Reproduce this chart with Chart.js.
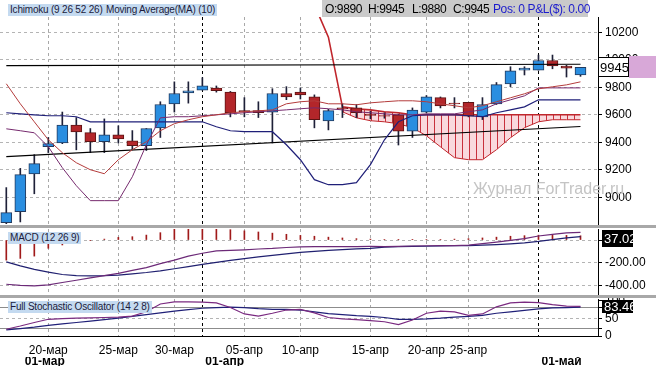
<!DOCTYPE html>
<html>
<head>
<meta charset="utf-8">
<script src="https://cdn.jsdelivr.net/npm/chart.js@4.4.1/dist/chart.umd.min.js"></script>
<style>
  body { margin: 0; background: #fff; font-family: "Liberation Sans", Arial, sans-serif; }
  #wrap { position: relative; width: 656px; height: 366px; overflow: hidden; background: #fff; }
  .pane { position: absolute; left: 0; width: 656px; }
  .sep { position: absolute; left: 0; width: 656px; height: 3px; background: #a8a8a8; }
  .tag { position: absolute; font-size: 10px; line-height: 12px; letter-spacing: -0.2px; background: #c4daf0; color: #1c1c3c; padding: 0 2px; white-space: nowrap; }
  #info { position: absolute; left: 322px; top: 0; width: 266px; height: 17px; background: #cacaca; font-size: 12px; letter-spacing: -0.4px; }
  #info span { position: absolute; top: 2px; white-space: nowrap; }
  #marca { position: absolute; left: 473px; top: 180px; font-size: 16px; color: #c4c4c4; white-space: nowrap; }
</style>
</head>
<body>
<div id="wrap">
  <div class="pane" style="top:0;height:225px"><canvas id="principal"></canvas></div>
  <div class="sep" style="top:225px"></div>
  <div class="pane" style="top:228px;height:67px"><canvas id="macd"></canvas></div>
  <div class="sep" style="top:295px"></div>
  <div class="pane" style="top:298px;height:68px"><canvas id="estocastico"></canvas></div>

  <div class="tag" style="left:8px;top:4px">Ichimoku (9 26 52 26)</div>
  <div class="tag" style="left:104px;top:4px">Moving Average(MA) (10)</div>
  <div id="info">
    <span style="left:3px">O:9890</span>
    <span style="left:46px">H:9945</span>
    <span style="left:90px">L:9880</span>
    <span style="left:131px">C:9945</span>
    <span style="left:171px;color:#1c1ccc">Pos: 0 P&amp;L($): 0.00</span>
  </div>
  <div class="tag" style="left:8px;top:232px">MACD (12 26 9)</div>
  <div class="tag" style="left:8px;top:301px">Full Stochastic Oscillator (14 2 8)</div>
  <div id="marca">Журнал ForTrader.ru</div>
</div>

<script>
// Velas (OHLC)
const opens  = [8815, 8895, 9170, 9368, 9395, 9525, 9470, 9405, 9455, 9410, 9375, 9505, 9680, 9760, 9780, 9795, 9765, 9630, 9630, 9620, 9755,
                9765, 9730, 9555, 9650, 9650, 9605, 9595, 9600, 9480, 9620, 9725, 9685, 9690, 9585, 9680, 9825, 9925, 9925, 9995, 9955, 9890];
const highs  = [9070, 9210, 9310, 9435, 9620, 9580, 9500, 9570, 9520, 9485, 9500, 9695, 9840, 9840, 9870, 9810, 9770, 9725, 9695, 9790, 9805,
                9795, 9745, 9640, 9680, 9675, 9625, 9615, 9605, 9650, 9740, 9730, 9725, 9690, 9725, 9835, 9950, 9950, 10035, 10035, 9960, 9945];
const lows   = [8790, 8820, 9025, 9325, 9390, 9345, 9325, 9325, 9395, 9345, 9340, 9435, 9620, 9685, 9780, 9765, 9585, 9585, 9580, 9395, 9710,
                9715, 9505, 9490, 9580, 9580, 9570, 9575, 9380, 9435, 9615, 9650, 9650, 9585, 9565, 9675, 9805, 9890, 9925, 9935, 9875, 9880];
const closes = [8888, 9165, 9245, 9390, 9525, 9475, 9405, 9455, 9425, 9375, 9500, 9675, 9755, 9775, 9810, 9775, 9615, 9622, 9615, 9755, 9730,
                9745, 9565, 9630, 9645, 9615, 9595, 9590, 9480, 9635, 9730, 9665, 9680, 9590, 9675, 9820, 9920, 9940, 9995, 9955, 9940, 9945];

// Lineas del Ichimoku y media movil
const lineaAzul = [9615, 9607, 9600, 9593, 9593, 9586, 9549, 9549, 9549, 9549, 9549, 9549, 9549, 9549, 9549, 9513, 9484, 9477, 9477, 9477, 9382,
                   9273, 9128, 9091, 9091, 9106, 9237, 9418, 9549, 9593, 9600, 9600, 9600, 9593, 9586, 9615, 9636, 9658, 9709, 9709, 9709, 9709];
const lineaMorada = [9498, 9484, 9469, 9367, 9215, 9084, 8975, 8975, 8975, 9149, 9382, 9578, 9586, 9586, 9593, 9600, 9607, 9615, 9622, 9629, 9636,
                     9644, 9651, 9644, 9636, 9622, 9615, 9607, 9600, 9600, 9607, 9607, 9607, 9622, 9636, 9680, 9709, 9738, 9796, 9796, 9796, 9796];
const mediaMovil = [9826, 9680, 9549, 9418, 9324, 9251, 9200, 9171, 9273, 9346, 9404, 9484, 9535, 9564, 9586, 9600, 9615, 9622, 9629, 9636, 9680,
                    9695, 9702, 9680, 9680, 9673, 9687, 9695, 9702, 9702, 9695, 9680, 9666, 9651, 9666, 9695, 9724, 9753, 9789, 9804, 9818, 9840];
const spanB = [null, null, null, null, null, null, null, null, null, null, null, null, null, null, null, null, null, null, null, null, null,
               10750, 10400, 10165, 9658, 9644, 9636, 9622, 9615, 9600, 9600, 9600, 9600, 9600, 9600, 9600, 9600, 9600, 9600, 9600, 9600, 9600];
const spanA = [null, null, null, null, null, null, null, null, null, null, null, null, null, null, null, null, null, null, null, null, null,
               null, null, null, 9622, 9578, 9557, 9549, 9535, 9506, 9447, 9367, 9288, 9273, 9273, 9346, 9433, 9506, 9549, 9564, 9564, 9564];

// Lineas dibujadas (inicio y fin)
const lineaX = [0, 41];
const lineaNivel = [9958, 9968];
const lineaTendencia = [9295, 9515];

// MACD
const macdLinea = [-385, -395, -400, -390, -370, -350, -330, -310, -290, -265, -240, -205, -175, -140, -115, -95, -90, -85, -78, -73, -65,
                   -60, -58, -58, -58, -57, -56, -57, -55, -52, -50, -49, -48, -44, -32, -18, -3, 12, 35, 50, 63, 67];
const macdSenal = [-190, -225, -255, -280, -300, -310, -312, -310, -305, -295, -283, -268, -250, -232, -212, -195, -178, -162, -147, -133, -120,
                   -108, -98, -90, -83, -77, -72, -62, -58, -56, -54, -52, -50, -48, -45, -40, -33, -24, -12, 3, 18, 29];
const macdHist = [-175, -160, -140, -72, -43, -15, -5, 8, 23, 29, 43, 64, 93, 93, 95, 100, 90, 80, 70, 60, 50,
                  40, 33, 25, 18, 12, 8, 5, 3, 3, 4, 5, 8, 12, 18, 25, 33, 38, 42, 42, 40, 37.02];

// Estocastico
const estK = [19, 28, 38, 47, 49, 50, 51, 52, 53, 56, 68, 90, 96, 96, 95, 93, 80, 62, 56, 64, 73,
              75, 65, 52, 48, 46, 43, 40, 32, 45, 64, 70, 68, 58, 62, 82, 93, 95, 94, 88, 84, 83.46];
const estD = [17, 21, 25, 30, 34, 38, 42, 46, 50, 55, 60, 65, 70, 74, 78, 80, 81, 80, 77, 75, 75,
              73, 68, 63, 60, 57, 55, 52, 47, 47, 48, 50, 53, 55, 58, 64, 68, 72, 76, 79, 80, 81];
const nivelesEst = [20, 80];

// Marcas de los ejes
const ticksPrecio = [9000, 9200, 9400, 9600, 9800, 10000, 10200];
const ticksMacd = [-400, -200, 0];
const ticksEst = [0, 20, 50, 80, 100];
const fechasIdx = [3, 8, 12, 17, 21, 26, 30, 33];
const fechas = ['20-мар', '25-мар', '30-мар', '05-апр', '10-апр', '15-апр', '20-апр', '25-апр'];
const mesesIdx = [1.1, 14, 38];
const meses = ['01-мар', '01-апр', '01-май'];
const lineasMes = [14, 38];

Chart.defaults.font.family = '"Liberation Sans", Arial, sans-serif';
Chart.defaults.color = '#000';

const puntos = arr => arr.map((v, i) => ({ x: i, y: v }));

// Trama del kumo: rosa con rayas verticales rojas
const pc = document.createElement('canvas');
pc.width = 7; pc.height = 4;
const pg = pc.getContext('2d');
pg.fillStyle = '#f9d9dd'; pg.fillRect(0, 0, 7, 4);
pg.fillStyle = '#c8303c'; pg.fillRect(0, 0, 1, 4);
const trama = pg.createPattern(pc, 'repeat');

// Recuadro del ultimo valor en el eje derecho
const etiquetaValor = {
  id: 'etiquetaValor',
  afterDraw(chart, args, o) {
    if (!o || o.value == null) return;
    const { ctx, chartArea } = chart;
    const py = chart.scales.y.getPixelForValue(o.value);
    const top = Math.max(Math.round(py - o.h / 2), chartArea.top + 1);
    ctx.save();
    if (o.cola) {
      ctx.fillStyle = o.cola;
      ctx.fillRect(o.x + o.w, top - 1, 656 - o.x - o.w, o.h + 2);
    }
    ctx.fillStyle = o.fondo;
    ctx.fillRect(o.x, top, o.w, o.h);
    if (o.borde) {
      ctx.strokeStyle = o.borde; ctx.lineWidth = 1;
      ctx.strokeRect(o.x + 0.5, top + 0.5, o.w - 1, o.h - 1);
    }
    ctx.fillStyle = o.texto;
    ctx.font = '13px "Liberation Sans", Arial';
    ctx.textBaseline = 'middle';
    ctx.fillText(o.label, o.x + 2, top + o.h / 2 + 1);
    ctx.restore();
  }
};

function ejeX(conEtiquetas, alto) {
  return {
    type: 'linear', min: -0.45, max: 42.25, offset: false,
    afterBuildTicks: s => { s.ticks = fechasIdx.concat(lineasMes).sort((a, b) => a - b).map(v => ({ value: v })); },
    afterFit: s => { s.height = alto; s.paddingLeft = 0; s.paddingRight = 0; },
    ticks: {
      display: conEtiquetas, autoSkip: false, maxRotation: 0, padding: conEtiquetas ? 9 : 0,
      font: { size: 12, lineHeight: 1 },
      callback: v => { const k = fechasIdx.indexOf(v); return k >= 0 ? fechas[k] : ''; }
    },
    grid: { offset: false, drawTicks: false, color: c => (c.tick && lineasMes.includes(c.tick.value)) ? '#000' : '#a8a8a8' },
    border: { display: conEtiquetas, color: '#000', dash: [3, 3] }
  };
}

function ejeY(min, max, marcas, formato) {
  return {
    position: 'right', min: min, max: max,
    afterBuildTicks: s => { s.ticks = marcas.map(v => ({ value: v })); },
    afterFit: s => { s.width = 58; s.paddingTop = 0; s.paddingBottom = 0; },
    ticks: { autoSkip: false, padding: 3, font: { size: 12 }, callback: formato },
    grid: { color: '#b4b4b4', tickLength: 4, tickColor: '#000' },
    border: { color: '#000', dash: [3, 3] }
  };
}

const linea = (data, color, ancho, orden) => ({
  type: 'line', data: puntos(data), borderColor: color, borderWidth: ancho,
  pointRadius: 0, tension: 0, fill: false, order: orden
});

const baseOpts = {
  responsive: true, maintainAspectRatio: false, animation: false,
  plugins: { legend: { display: false }, tooltip: { enabled: false } }
};

// Panel de precios
new Chart(document.getElementById('principal'), {
  type: 'bar',
  data: {
    datasets: [
      linea(mediaMovil, '#b43c3c', 1, 1),
      linea(lineaMorada, '#762a6e', 1, 1),
      linea(lineaAzul, '#1f1f78', 1.2, 1),
      {
        type: 'line', data: [{ x: lineaX[0], y: lineaNivel[0] }, { x: lineaX[1], y: lineaNivel[1] }],
        borderColor: '#000', borderWidth: 1.2, pointRadius: 0, order: 1
      },
      {
        type: 'line', data: [{ x: lineaX[0], y: lineaTendencia[0] }, { x: lineaX[1], y: lineaTendencia[1] }],
        borderColor: '#000', borderWidth: 1.2, pointRadius: 0, order: 1
      },
      {
        data: opens.map((o, i) => ({ x: i, y: [o, closes[i]] })),
        backgroundColor: opens.map((o, i) => closes[i] >= o ? '#2a8ee0' : '#b3262a'),
        borderColor: opens.map((o, i) => closes[i] >= o ? '#233a5e' : '#5c1414'),
        borderWidth: 1, borderSkipped: false, barThickness: 11, grouped: false, order: 2
      },
      {
        data: lows.map((l, i) => ({ x: i, y: [l, highs[i]] })),
        backgroundColor: '#1e2038', borderWidth: 0, barThickness: 1, grouped: false, order: 3
      },
      {
        type: 'line', data: puntos(spanB), borderColor: '#c0262c', borderWidth: 1.6,
        pointRadius: 0, tension: 0, fill: false, order: 4
      },
      {
        type: 'line', data: puntos(spanA), borderColor: '#c0262c', borderWidth: 1,
        pointRadius: 0, tension: 0, fill: '-1', backgroundColor: trama, order: 5
      }
    ]
  },
  options: Object.assign({}, baseOpts, {
    layout: { padding: { top: 17, bottom: 1, left: 0, right: 0 } },
    scales: { x: ejeX(false, 0), y: ejeY(8805, 10312, ticksPrecio, v => v) },
    plugins: Object.assign({}, baseOpts.plugins, {
      etiquetaValor: { value: closes[41], label: String(closes[41]), x: 598, w: 31, h: 20,
                       fondo: '#fff', borde: '#000', texto: '#000', cola: '#d8a8d8' }
    })
  }),
  plugins: [etiquetaValor]
});

// Panel MACD
new Chart(document.getElementById('macd'), {
  type: 'bar',
  data: {
    datasets: [
      linea(macdLinea, '#6c2a78', 1.2, 1),
      linea(macdSenal, '#202070', 1.2, 1),
      {
        data: puntos(macdHist), backgroundColor: '#a01a1a', borderWidth: 0,
        barThickness: 1, grouped: false, order: 2
      }
    ]
  },
  options: Object.assign({}, baseOpts, {
    layout: { padding: { top: 1, bottom: 1, left: 0, right: 0 } },
    scales: { x: ejeX(false, 0), y: ejeY(-470, 96, ticksMacd, v => v.toFixed(2)) },
    plugins: Object.assign({}, baseOpts.plugins, {
      etiquetaValor: { value: macdHist[41], label: macdHist[41].toFixed(2), x: 602, w: 31, h: 17,
                       fondo: '#000', texto: '#fff' }
    })
  }),
  plugins: [etiquetaValor]
});

// Panel estocastico
const yEst = ejeY(0, 104, ticksEst, v => (v % 50 === 0 ? v : ''));
yEst.grid.color = c => {
  const v = c.tick ? c.tick.value : null;
  if (nivelesEst.includes(v)) return '#8c8c8c';
  if (v === 50) return '#b4b4b4';
  return 'rgba(0,0,0,0)';
};
yEst.border.dash = c => (c.tick && nivelesEst.includes(c.tick.value)) ? [] : [3, 3];

const xMes = {
  type: 'linear', min: -0.45, max: 42.25, offset: false, position: 'bottom', weight: 1,
  afterBuildTicks: s => { s.ticks = mesesIdx.map(v => ({ value: v })); },
  afterFit: s => { s.height = 9; s.paddingLeft = 0; s.paddingRight = 0; },
  ticks: {
    autoSkip: false, maxRotation: 0, padding: 0, align: 'start', labelOffset: 3,
    font: { size: 12, weight: 'bold', lineHeight: 0.75 },
    callback: v => meses[mesesIdx.indexOf(v)]
  },
  grid: { display: false, drawTicks: false },
  border: { display: false }
};

new Chart(document.getElementById('estocastico'), {
  type: 'line',
  data: {
    datasets: [
      linea(estK, '#7a2a80', 1.2, 1),
      linea(estD, '#202078', 1.2, 1)
    ]
  },
  options: Object.assign({}, baseOpts, {
    layout: { padding: { top: 1, bottom: 0, left: 0, right: 0 } },
    scales: { x: ejeX(true, 21), x2: xMes, y: yEst },
    plugins: Object.assign({}, baseOpts.plugins, {
      etiquetaValor: { value: estK[41], label: estK[41].toFixed(2), x: 602, w: 31, h: 13,
                       fondo: '#000', texto: '#fff' }
    })
  }),
  plugins: [etiquetaValor]
});
</script>
</body>
</html>
